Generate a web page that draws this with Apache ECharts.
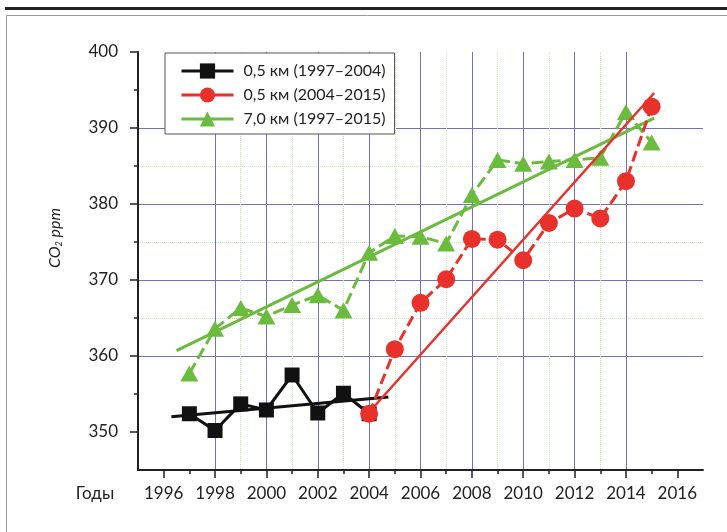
<!DOCTYPE html>
<html>
<head>
<meta charset="utf-8">
<script src="https://cdn.jsdelivr.net/npm/echarts@6/dist/echarts.min.js"></script>
<style>
  html, body { margin: 0; padding: 0; background: #fff; }
  #chart { width: 727px; height: 532px; }
</style>
</head>
<body>
<div id="chart"></div>
<script>
// CO2 concentration, ppm, by year
const yearsLow1 = [1997, 1998, 1999, 2000, 2001, 2002, 2003, 2004];
const co2Low1 = [352.4, 350.2, 353.7, 352.9, 357.5, 352.5, 355.1, 352.4];

const yearsLow2 = [2004, 2005, 2006, 2007, 2008, 2009, 2010, 2011, 2012, 2013, 2014, 2015];
const co2Low2 = [352.4, 360.9, 367.0, 370.1, 375.4, 375.3, 372.6, 377.5, 379.4, 378.1, 383.0, 392.8];

const yearsHigh = [1997, 1998, 1999, 2000, 2001, 2002, 2003, 2004, 2005, 2006,
                   2007, 2008, 2009, 2010, 2011, 2012, 2013, 2014, 2015];
const co2High = [357.7, 363.6, 366.3, 365.2, 366.7, 368.0, 366.0, 373.6, 375.8, 375.7,
                 374.8, 381.2, 385.8, 385.3, 385.6, 385.8, 386.1, 392.1, 388.1];

// Trend lines: end points (year, ppm)
const trendLow1Years = [1996.3, 2004.75];
const trendLow1Co2 = [352.0, 354.6];
const trendLow2Years = [2004.0, 2015.1];
const trendLow2Co2 = [352.6, 394.6];
const trendHighYears = [1996.5, 2015.1];
const trendHighCo2 = [360.7, 391.3];

// Tick labels and grid positions
const yearTicks = [1996, 1998, 2000, 2002, 2004, 2006, 2008, 2010, 2012, 2014, 2016];
const yearMinorTicks = [1997, 1999, 2001, 2003, 2005, 2007, 2009, 2011, 2013, 2015];
const ppmTicks = [350, 360, 370, 380, 390, 400];
const ppmMinorTicks = [355, 365, 375, 385, 395];

const seriesNames = ['0,5 км (1997–2004)', '0,5 км (2004–2015)', '7,0 км (1997–2015)'];

const FONT = 'Lato, "Open Sans", sans-serif';
const BLACK = '#111111';
const RED = '#e8312b';
const GREEN = '#6bbb3e';
const GRID_BLUE = '#7272bc';
const GRID_GREEN = '#cce6c2';

const pairs = (xs, ys) => xs.map((x, i) => [x, ys[i]]);
const plain = v => String(v);

const chart = echarts.init(document.getElementById('chart'), null, { renderer: 'canvas' });

chart.setOption({
  backgroundColor: '#ffffff',
  animation: false,
  textStyle: { fontFamily: FONT },
  grid: { left: 138, right: 24, top: 52, bottom: 62, containLabel: false },
  legend: {
    data: seriesNames,
    orient: 'vertical',
    left: 165,
    top: 53,
    padding: [10, 9, 7, 15],
    itemGap: 8,
    itemWidth: 52,
    itemHeight: 19,
    backgroundColor: '#ffffff',
    borderColor: '#555555',
    borderWidth: 1,
    borderRadius: 0,
    lineStyle: { type: 'solid', width: 3 },
    textStyle: { fontFamily: FONT, fontSize: 16, color: '#222', padding: [0, 0, 0, 5] }
  },
  xAxis: [
    {
      // odd years: dotted grid and short ticks
      type: 'value', min: 1995, max: 2017, interval: 1, position: 'bottom',
      axisLine: { show: false },
      axisTick: { show: true, length: 4, customValues: yearMinorTicks, lineStyle: { color: '#222', width: 1.5 } },
      axisLabel: { show: false },
      splitLine: { show: true, showMinLine: false, showMaxLine: false,
        lineStyle: { color: GRID_GREEN, type: 'dotted', width: 1 } }
    },
    {
      // even years: solid grid, long ticks, labels
      type: 'value', min: 1995, max: 2017, interval: 1, position: 'bottom',
      axisLine: { show: true, onZero: false, lineStyle: { color: '#222', width: 2 } },
      axisTick: { show: true, length: 8, customValues: yearTicks, lineStyle: { color: '#222', width: 1.5 } },
      axisLabel: { show: true, customValues: yearTicks, formatter: plain, margin: 15, fontSize: 17, color: '#222', fontFamily: FONT },
      splitLine: { show: true, showMinLine: false, showMaxLine: false,
        lineStyle: { color: GRID_BLUE, width: 1 } }
    }
  ],
  yAxis: [
    {
      type: 'value', min: 345, max: 400, interval: 5, position: 'left',
      axisLine: { show: false },
      axisTick: { show: true, length: 4, customValues: ppmMinorTicks, lineStyle: { color: '#222', width: 1.5 } },
      axisLabel: { show: false },
      splitLine: { show: true, showMinLine: false, showMaxLine: false,
        lineStyle: { color: GRID_GREEN, type: 'dotted', width: 1 } }
    },
    {
      type: 'value', min: 345, max: 400, interval: 5, position: 'left',
      axisLine: { show: true, onZero: false, lineStyle: { color: '#222', width: 2 } },
      axisTick: { show: true, length: 8, customValues: ppmTicks, lineStyle: { color: '#222', width: 1.5 } },
      axisLabel: { show: true, customValues: ppmTicks, formatter: plain, margin: 20, fontSize: 17, color: '#222', fontFamily: FONT },
      splitLine: { show: true, showMinLine: false, showMaxLine: false,
        lineStyle: { color: GRID_BLUE, width: 1 } }
    }
  ],
  series: [
    {
      name: seriesNames[0], type: 'line', xAxisIndex: 1, yAxisIndex: 1,
      data: pairs(yearsLow1, co2Low1),
      symbol: 'rect', symbolSize: 15,
      itemStyle: { color: BLACK },
      lineStyle: { color: BLACK, width: 3 },
      z: 3
    },
    {
      name: 'trend-low-1', type: 'line', xAxisIndex: 1, yAxisIndex: 1,
      data: pairs(trendLow1Years, trendLow1Co2),
      symbol: 'none', lineStyle: { color: BLACK, width: 3 }, z: 3
    },
    {
      name: seriesNames[2], type: 'line', xAxisIndex: 1, yAxisIndex: 1,
      data: pairs(yearsHigh, co2High),
      symbol: 'triangle', symbolSize: [18, 16],
      itemStyle: { color: GREEN },
      lineStyle: { color: GREEN, width: 3, type: [12, 5] },
      z: 4
    },
    {
      name: 'trend-high', type: 'line', xAxisIndex: 1, yAxisIndex: 1,
      data: pairs(trendHighYears, trendHighCo2),
      symbol: 'none', lineStyle: { color: GREEN, width: 3 }, z: 4
    },
    {
      name: seriesNames[1], type: 'line', xAxisIndex: 1, yAxisIndex: 1,
      data: pairs(yearsLow2, co2Low2),
      symbol: 'circle', symbolSize: 18,
      itemStyle: { color: RED },
      lineStyle: { color: RED, width: 3, type: [11, 5] },
      z: 5
    },
    {
      name: 'trend-low-2', type: 'line', xAxisIndex: 1, yAxisIndex: 1,
      data: pairs(trendLow2Years, trendLow2Co2),
      symbol: 'none', lineStyle: { color: RED, width: 2.5 }, z: 5
    }
  ],
  graphic: [
    { type: 'rect', shape: { x: 5, y: 7, width: 730, height: 3 }, style: { fill: '#222' }, silent: true },
    { type: 'rect', shape: { x: 6.5, y: 15.5, width: 740, height: 540 }, style: { fill: 'none', stroke: '#9a9a9a', lineWidth: 1 }, silent: true },
    {
      type: 'text', x: 95, y: 494,
      style: { text: 'Годы', fontFamily: FONT, fontSize: 17, fill: '#222', align: 'center', verticalAlign: 'middle' },
      silent: true
    },
    {
      type: 'text', x: 55, y: 238, rotation: Math.PI / 2,
      style: {
        text: '{m|CO}{s|2}{m| ppm}',
        align: 'center', verticalAlign: 'middle',
        rich: {
          m: { fontFamily: FONT, fontSize: 16, fontStyle: 'italic', fill: '#222', color: '#222' },
          s: { fontFamily: FONT, fontSize: 9, fontStyle: 'italic', fill: '#222', color: '#222', padding: [8, 0, 0, 0] }
        }
      },
      silent: true
    }
  ]
});
</script>
</body>
</html>
